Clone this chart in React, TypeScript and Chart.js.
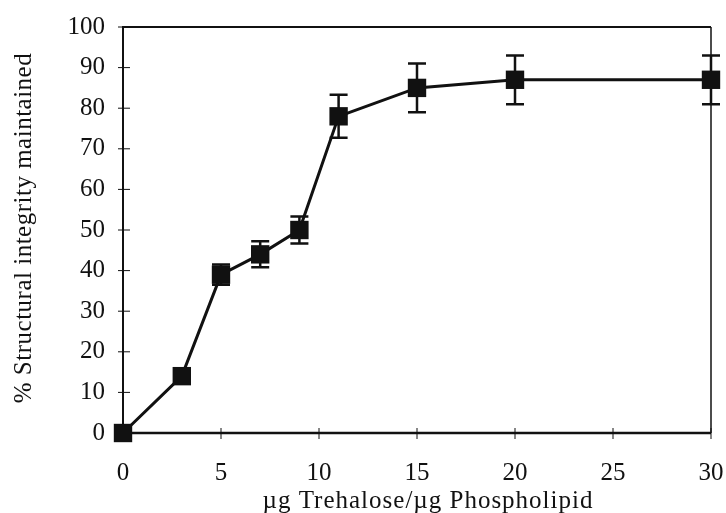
import React, { useEffect, useRef } from "react";
import { Chart, registerables } from "chart.js";

Chart.register(...registerables);

const xValues = [0, 3, 5, 7, 9, 11, 15, 20, 30];
const yValues = [0, 14, 39, 44, 50, 78, 85, 87, 87];
const errors = [0, 0, 2.5, 3.2, 3.3, 5.3, 6, 6, 6];
const xTicks = [0, 5, 10, 15, 20, 25, 30];
const yTicks = [0, 10, 20, 30, 40, 50, 60, 70, 80, 90, 100];
const xTitle = "\u00b5g Trehalose/\u00b5g Phospholipid";
const yTitle = "% Structural integrity maintained";

const FONT = "'Liberation Serif', 'Times New Roman', serif";

const framePlugin = {
  id: "frameAndErrors",
  beforeDatasetsDraw(chart: any) {
    const { ctx, chartArea, scales } = chart;
    const xs = scales.x;
    const ys = scales.y;
    ctx.save();
    ctx.strokeStyle = "#111";
    ctx.lineWidth = 2;
    ctx.beginPath();
    ctx.moveTo(chartArea.left, chartArea.bottom);
    ctx.lineTo(chartArea.left, chartArea.top);
    ctx.lineTo(chartArea.right, chartArea.top);
    ctx.stroke();
    ctx.lineWidth = 1.5;
    ctx.beginPath();
    ctx.moveTo(chartArea.right, chartArea.top);
    ctx.lineTo(chartArea.right, chartArea.bottom);
    ctx.stroke();
    ctx.lineWidth = 2.5;
    ctx.beginPath();
    ctx.moveTo(chartArea.left, chartArea.bottom);
    ctx.lineTo(chartArea.right, chartArea.bottom);
    ctx.stroke();
    ctx.lineWidth = 1;
    yTicks.forEach((v) => {
      const py = ys.getPixelForValue(v);
      ctx.beginPath();
      ctx.moveTo(chartArea.left - 5, py);
      ctx.lineTo(chartArea.left + 7, py);
      ctx.stroke();
    });
    xTicks.forEach((v) => {
      const px = xs.getPixelForValue(v);
      ctx.beginPath();
      ctx.moveTo(px, chartArea.bottom - 5);
      ctx.lineTo(px, chartArea.bottom + 6);
      ctx.stroke();
    });
    ctx.lineWidth = 2.5;
    xValues.forEach((x, i) => {
      const e = errors[i];
      if (!e) return;
      const px = xs.getPixelForValue(x);
      const top = ys.getPixelForValue(yValues[i] + e);
      const bot = ys.getPixelForValue(yValues[i] - e);
      ctx.beginPath();
      ctx.moveTo(px, top);
      ctx.lineTo(px, bot);
      ctx.moveTo(px - 9, top);
      ctx.lineTo(px + 9, top);
      ctx.moveTo(px - 9, bot);
      ctx.lineTo(px + 9, bot);
      ctx.stroke();
    });
    ctx.restore();
  },
  afterDraw(chart: any) {
    const { ctx, chartArea } = chart;
    ctx.save();
    ctx.fillStyle = "#111";
    ctx.font = `25px ${FONT}`;
    (ctx as any).letterSpacing = "1px";
    ctx.textAlign = "center";
    ctx.textBaseline = "alphabetic";
    ctx.fillText(xTitle, 428, 508);
    ctx.translate(31, (chartArea.top + chartArea.bottom) / 2 - 2);
    ctx.rotate(-Math.PI / 2);
    (ctx as any).letterSpacing = "0.5px";
    ctx.fillText(yTitle, 0, 0);
    ctx.restore();
  },
};

export default function App() {
  const ref = useRef<HTMLCanvasElement | null>(null);
  useEffect(() => {
    document.body.style.margin = "0";
    const chart = new Chart(ref.current as HTMLCanvasElement, {
      type: "scatter",
      data: {
        datasets: [
          {
            data: xValues.map((x, i) => ({ x, y: yValues[i] })),
            showLine: true,
            borderColor: "#111",
            borderWidth: 3,
            backgroundColor: "#111",
            pointStyle: "rect",
            pointRadius: 13,
            pointBorderWidth: 0,
            clip: false,
          } as any,
        ],
      },
      options: {
        animation: false,
        responsive: false,
        plugins: { legend: { display: false }, tooltip: { enabled: false } },
        layout: { padding: { top: 27, right: 15, left: 0, bottom: 0 } },
        scales: {
          x: {
            type: "linear",
            min: 0,
            max: 30,
            afterBuildTicks: (s: any) => {
              s.ticks = xTicks.map((v) => ({ value: v }));
            },
            afterFit: (s: any) => {
              s.height = 80;
              s.paddingLeft = 0;
              s.paddingRight = 0;
            },
            grid: { display: false, drawTicks: false },
            border: { display: false },
            ticks: {
              color: "#111",
              padding: 25,
              maxRotation: 0,
              font: { family: FONT, size: 25 },
            },
          },
          y: {
            min: 0,
            max: 100,
            afterBuildTicks: (s: any) => {
              s.ticks = yTicks.map((v) => ({ value: v }));
            },
            afterFit: (s: any) => {
              s.width = 123;
              s.paddingTop = 0;
              s.paddingBottom = 0;
            },
            grid: { display: false, drawTicks: false },
            border: { display: false },
            ticks: {
              color: "#111",
              padding: 18,
              font: { family: FONT, size: 25 },
            },
          },
        },
      },
      plugins: [framePlugin],
    });
    return () => chart.destroy();
  }, []);
  return (
    <div style={{ width: 726, height: 513 }}>
      <canvas ref={ref} width={726} height={513} />
    </div>
  );
}
